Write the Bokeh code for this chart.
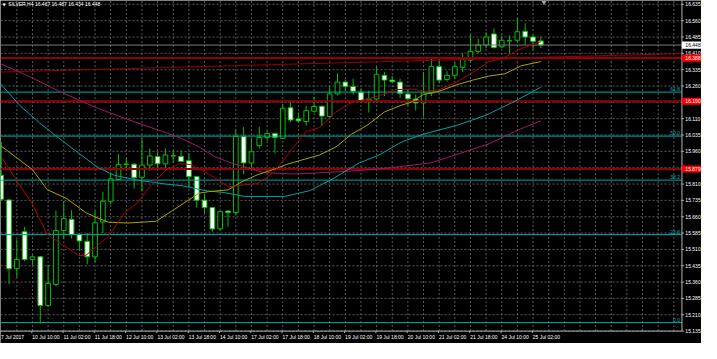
from bokeh.plotting import figure
from bokeh.models import ColumnDataSource, Range1d
from bokeh.embed import file_html
from bokeh.resources import INLINE
from bokeh.core.properties import value

# ---------------- data ----------------
header = "SILVER,H4 16.467 16.487 16.434 16.448"

opens = [15.850, 15.737, 15.421, 15.591, 15.464, 15.476, 15.252, 15.349, 15.597, 15.648,
         15.578, 15.547, 15.476, 15.636, 15.731, 15.831, 15.900, 15.901, 15.841, 15.897,
         15.936, 15.903, 15.939, 15.936, 15.917, 15.844, 15.736, 15.702, 15.604, 15.686,
         15.679, 16.028, 15.907, 15.987, 16.024, 16.042, 16.020, 16.160, 16.108, 16.097,
         16.144, 16.167, 16.120, 16.224, 16.278, 16.258, 16.232, 16.192, 16.200, 16.309,
         16.287, 16.278, 16.223, 16.200, 16.182, 16.228, 16.349, 16.290, 16.309, 16.346,
         16.379, 16.419, 16.448, 16.499, 16.440, 16.467, 16.470, 16.511, 16.485, 16.467]
highs = [16.003, 15.742, 15.556, 15.614, 15.483, 15.480, 15.439, 15.688, 15.731, 15.691,
         15.585, 15.585, 15.688, 15.775, 15.863, 15.948, 15.929, 15.907, 16.020, 15.973,
         15.958, 15.973, 15.965, 15.964, 15.951, 15.848, 15.761, 15.705, 15.688, 15.688,
         16.060, 16.072, 16.017, 16.072, 16.053, 16.045, 16.178, 16.188, 16.138, 16.170,
         16.211, 16.170, 16.258, 16.319, 16.290, 16.294, 16.250, 16.239, 16.349, 16.324,
         16.305, 16.294, 16.245, 16.221, 16.324, 16.389, 16.389, 16.328, 16.367, 16.411,
         16.495, 16.477, 16.507, 16.524, 16.492, 16.492, 16.572, 16.547, 16.495, 16.487]
lows = [15.732, 15.351, 15.381, 15.455, 15.439, 15.169, 15.249, 15.341, 15.556, 15.560,
        15.505, 15.442, 15.451, 15.585, 15.717, 15.829, 15.872, 15.790, 15.775, 15.871,
        15.878, 15.871, 15.907, 15.913, 15.797, 15.702, 15.673, 15.592, 15.600, 15.614,
        15.666, 15.856, 15.885, 15.973, 16.009, 15.951, 16.017, 16.094, 16.094, 16.079,
        16.138, 16.075, 16.115, 16.217, 16.236, 16.221, 16.185, 16.138, 16.188, 16.214,
        16.272, 16.206, 16.170, 16.148, 16.119, 16.214, 16.272, 16.280, 16.294, 16.324,
        16.375, 16.411, 16.433, 16.433, 16.433, 16.411, 16.463, 16.448, 16.426, 16.434]
closes = [15.740, 15.421, 15.464, 15.464, 15.476, 15.252, 15.354, 15.597, 15.651, 15.578,
          15.549, 15.476, 15.632, 15.731, 15.834, 15.900, 15.902, 15.839, 15.897, 15.939,
          15.903, 15.943, 15.940, 15.914, 15.844, 15.736, 15.702, 15.604, 15.683, 15.679,
          16.028, 15.907, 15.958, 16.024, 16.042, 16.024, 16.158, 16.104, 16.100, 16.147,
          16.166, 16.122, 16.224, 16.278, 16.258, 16.236, 16.192, 16.200, 16.314, 16.287,
          16.280, 16.226, 16.201, 16.182, 16.228, 16.349, 16.287, 16.309, 16.349, 16.381,
          16.419, 16.448, 16.485, 16.436, 16.470, 16.468, 16.509, 16.485, 16.465, 16.448]

date_idx = [0, 4, 8, 12, 16, 20, 24, 28, 32, 36, 40, 44, 48, 52, 56, 60, 64, 68]
date_labels = ["7 Jul 2017", "10 Jul 10:00", "11 Jul 02:00", "11 Jul 18:00", "12 Jul 10:00",
               "13 Jul 02:00", "13 Jul 18:00", "14 Jul 10:00", "17 Jul 02:00", "17 Jul 18:00",
               "18 Jul 10:00", "19 Jul 02:00", "19 Jul 18:00", "20 Jul 10:00", "21 Jul 02:00",
               "21 Jul 18:00", "24 Jul 10:00", "25 Jul 02:00"]

price_ticks = [15.135, 15.210, 15.285, 15.360, 15.435, 15.510, 15.585, 15.660, 15.735,
               15.810, 15.885, 15.960, 16.035, 16.110, 16.185, 16.260, 16.335, 16.410,
               16.485, 16.560, 16.635]

# moving averages (bar position, price)
ma_red_x = [0.1, 4.0, 5.9, 9.9, 10.8, 13.7, 15.8, 17.4, 19.0, 21.0, 22.8, 24.2, 26.5, 28.2,
            29.0, 31.0, 32.8, 34.0, 34.9, 36.5, 39.0, 40.7, 42.8, 44.8, 46.9, 49.0, 50.3,
            52.4, 54.4, 56.0, 58.2, 60.3, 62.3, 64.4, 66.5, 68.5, 69.0]
ma_red_y = [15.929, 15.718, 15.578, 15.482, 15.482, 15.569, 15.679, 15.723, 15.797, 15.872,
            15.903, 15.900, 15.856, 15.819, 15.797, 15.806, 15.812, 15.841, 15.867, 15.938,
            16.052, 16.069, 16.141, 16.185, 16.201, 16.223, 16.243, 16.246, 16.236, 16.243,
            16.278, 16.322, 16.370, 16.392, 16.432, 16.457, 16.463]

ma_yellow_x = [-0.1, 4.0, 5.9, 8.3, 10.8, 12.4, 13.7, 16.2, 19.8, 21.9, 25.3, 26.5, 29.0,
               30.7, 32.8, 34.9, 36.5, 38.5, 40.7, 42.8, 44.8, 46.9, 49.0, 51.0, 52.4, 54.0,
               56.0, 58.2, 60.3, 62.3, 64.4, 66.5, 69.0]
ma_yellow_y = [15.987, 15.876, 15.784, 15.745, 15.679, 15.653, 15.635, 15.631, 15.639,
               15.688, 15.768, 15.775, 15.783, 15.819, 15.853, 15.878, 15.900, 15.921,
               15.943, 15.980, 16.039, 16.082, 16.141, 16.170, 16.185, 16.221, 16.236,
               16.265, 16.287, 16.305, 16.316, 16.353, 16.372]

ma_cyan_x = [-0.1, 2.4, 4.9, 8.3, 12.4, 14.5, 17.4, 21.0, 23.2, 26.0, 28.5, 31.2, 36.2,
             39.5, 42.4, 45.8, 48.3, 51.2, 54.0, 58.5, 62.0, 65.8, 69.0]
ma_cyan_y = [16.271, 16.170, 16.091, 15.995, 15.885, 15.850, 15.828, 15.810, 15.802,
             15.780, 15.771, 15.753, 15.753, 15.780, 15.834, 15.907, 15.943, 16.003,
             16.039, 16.082, 16.126, 16.192, 16.255]

ma_magenta_x = [-0.1, 3.7, 7.4, 12.4, 16.9, 21.0, 23.2, 25.3, 27.3, 29.4, 31.5, 33.5, 37.4,
                41.5, 45.8, 49.9, 54.9, 58.7, 62.4, 66.2, 69.0]
ma_magenta_y = [16.363, 16.302, 16.236, 16.157, 16.097, 16.047, 16.017, 15.980, 15.936,
                15.907, 15.885, 15.863, 15.856, 15.863, 15.872, 15.885, 15.907, 15.951,
                15.995, 16.060, 16.100]

# horizontal levels
level_prices = [16.388, 16.190, 15.879]
level_labels = ["16.388", "16.190", "15.879"]
bid_price = 16.448
bid_label = "16.448"

fib_names = ["0.0", "23.6", "38.2", "50.0", "61.8"]
fib_prices = [15.174, 15.578, 15.828, 16.030, 16.232]

trend_x = [-0.09, 87.04]
trend_y = [16.324, 16.409]
fib_line_x = [-0.09, 6.8]
fib_line_y = [15.446, 15.183]

# ---------------- layout constants (bar units / price units) ----------------
X0, X1 = -0.0875, 89.54          # whole canvas, left to right
Y0, Y1 = 15.078, 16.6525         # whole canvas, bottom to top
AX = 87.04                       # right edge of the price area (axis line)
AY = 15.135                      # bottom edge of the price area (axis line)
PX = 0.125                       # one pixel in bar units
PY = 0.004386                    # one pixel in price units

GREEN = "#00c000"
FONT = "Liberation Sans"
FS = "5px"

p = figure(width=701, height=343, output_backend="svg", toolbar_location=None,
           x_range=Range1d(X0, X1), y_range=Range1d(Y0, Y1),
           x_axis_location=None, y_axis_location=None,
           background_fill_color="#000000", border_fill_color="#000000",
           min_border=0)
p.outline_line_color = None
p.grid.visible = False

# ---- grid ----
gkw = dict(line_color="#5c5c5c", line_dash="2 2", line_width=1)
p.segment(x0=[X0] * len(price_ticks), y0=price_ticks, x1=[AX] * len(price_ticks),
          y1=price_ticks, **gkw)
vg = list(range(2, 88, 2))
p.segment(x0=vg, y0=[AY] * len(vg), x1=vg, y1=[Y1] * len(vg), **gkw)

# ---- candles ----
idx = list(range(len(opens)))
src = ColumnDataSource(dict(
    x=idx, high=highs, low=lows,
    top=[max(o, c) for o, c in zip(opens, closes)],
    bottom=[min(o, c) for o, c in zip(opens, closes)],
    fill=["#000000" if c >= o else "#ffffff" for o, c in zip(opens, closes)],
))
p.segment(x0="x", y0="low", x1="x", y1="high", source=src, line_color=GREEN, line_width=1)
p.vbar(x="x", width=0.6, top="top", bottom="bottom", source=src,
       fill_color="fill", line_color=GREEN, line_width=1)

# ---- horizontal objects ----
nf = len(fib_prices)
p.segment(x0=[X0] * nf, y0=fib_prices, x1=[AX] * nf, y1=fib_prices,
          line_color="#00a8a8", line_width=1)
nl = len(level_prices)
p.segment(x0=[X0] * nl, y0=level_prices, x1=[AX] * nl, y1=level_prices,
          line_color="#960000", line_width=2)
p.segment(x0=[X0], y0=[bid_price], x1=[AX], y1=[bid_price], line_color="#7a7a7a", line_width=1)
p.line(trend_x, trend_y, line_color="#960000", line_width=1)
p.line(fib_line_x, fib_line_y, line_color="#c00000", line_width=1, line_dash="1 2")

# ---- moving averages ----
p.line(ma_magenta_x, ma_magenta_y, line_color="#a0186a", line_width=1)
p.line(ma_cyan_x, ma_cyan_y, line_color="#00a0a8", line_width=1)
p.line(ma_yellow_x, ma_yellow_y, line_color="#a8a400", line_width=1)
p.line(ma_red_x, ma_red_y, line_color="#b00000", line_width=1)

# fib captions
p.text(x=[AX - 2 * PX] * nf, y=fib_prices, text=fib_names, y_offset=-1,
       text_align="right", text_baseline="bottom", text_color="#00b4b4",
       text_font=value(FONT), text_font_size=FS)

# ---- price axis (right) ----
nt = len(price_ticks)
p.segment(x0=[AX, X0], y0=[AY, AY], x1=[AX, AX], y1=[Y1, AY],
          line_color="#b4b4b4", line_width=1)
p.segment(x0=[AX] * nt, y0=price_ticks, x1=[AX + 2 * PX] * nt, y1=price_ticks,
          line_color="#b4b4b4", line_width=1)
p.text(x=[AX + 3.5 * PX] * nt, y=price_ticks, text=["%.3f" % t for t in price_ticks],
       text_align="left", text_baseline="middle", text_color="#ffffff",
       text_font=value(FONT), text_font_size=FS)

# price boxes
box_w = X1 - AX
p.rect(x=[AX + box_w / 2] * nl, y=level_prices, width=box_w, height=7.5 * PY,
       fill_color="#ff0000", line_color=None)
p.text(x=[AX + 3.5 * PX] * nl, y=level_prices, text=level_labels,
       text_align="left", text_baseline="middle", text_color="#ffffff",
       text_font=value(FONT), text_font_size=FS)
p.rect(x=[AX + box_w / 2], y=[bid_price], width=box_w, height=7.5 * PY,
       fill_color="#ffffff", line_color=None)
p.text(x=[AX + 3.5 * PX], y=[bid_price], text=[bid_label],
       text_align="left", text_baseline="middle", text_color="#000000",
       text_font=value(FONT), text_font_size=FS)

# ---- time axis (bottom) ----
nd = len(date_idx)
p.segment(x0=[d - 0.09 for d in date_idx], y0=[AY] * nd,
          x1=[d - 0.09 for d in date_idx], y1=[AY - 2 * PY] * nd,
          line_color="#b4b4b4", line_width=1)
p.text(x=[d - 0.09 + 0.5 * PX for d in date_idx], y=[AY - 6 * PY] * nd, text=date_labels,
       text_align="left", text_baseline="middle", text_color="#ffffff",
       text_font=value(FONT), text_font_size=FS)

# ---- header and chart-shift marker ----
p.text(x=[X0 + 2 * PX], y=[16.635], text=["\u25bc"], text_align="left",
       text_baseline="middle", text_color="#ffffff", text_font=value("DejaVu Sans"),
       text_font_size="4px")
p.text(x=[X0 + 8 * PX], y=[16.635], text=[header], text_align="left",
       text_baseline="middle", text_color="#ffffff", text_font=value(FONT),
       text_font_size=FS)
p.scatter(x=[69.4], y=[Y1 - 2 * PY], marker="inverted_triangle", size=5,
          fill_color="#a0a0a0", line_color=None)

open("out.html", "w").write(file_html(p, INLINE))
